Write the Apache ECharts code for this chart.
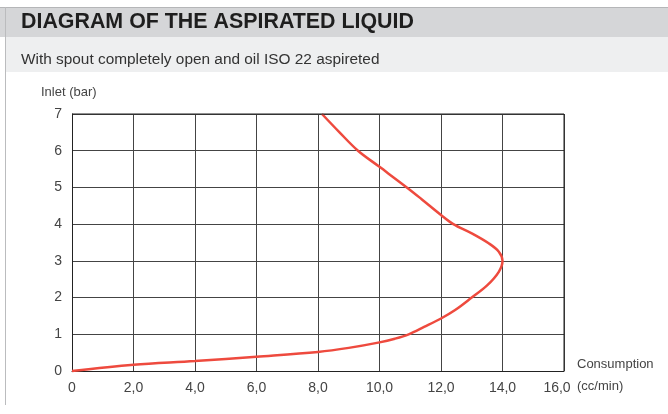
<!DOCTYPE html>
<html>
<head>
<meta charset="utf-8">
<style>
  html, body { margin: 0; padding: 0; background: #fff; }
  #chart { width: 668px; height: 414px; }
</style>
<script src="https://cdn.jsdelivr.net/npm/echarts@6/dist/echarts.min.js"></script>
</head>
<body>
<div id="chart"></div>
<script>
// Curve points, traced along the curve from the origin upward
const consumption = [0, 2, 4, 6, 8, 9, 10, 10.5, 10.95, 11.45, 12, 12.46, 13, 13.5, 13.88, 14, 13.88, 13.55, 13, 12.4, 12, 11.37, 10.92, 10, 9.3, 8.7, 8.13];
const inlet       = [0, 0.17, 0.27, 0.39, 0.52, 0.63, 0.78, 0.88, 1.0, 1.2, 1.43, 1.66, 2.0, 2.33, 2.7, 3.0, 3.25, 3.48, 3.75, 4.0, 4.25, 4.68, 4.98, 5.56, 6.0, 6.5, 7.0];

const xTickLabels = ['0', '2,0', '4,0', '6,0', '8,0', '10,0', '12,0', '14,0', '16,0'];
const yTickLabels = ['0', '1', '2', '3', '4', '5', '6', '7'];

const titleText = 'DIAGRAM OF THE ASPIRATED LIQUID';
const subtitleText = 'With spout completely open and oil ISO 22 aspireted';
const yAxisName = 'Inlet (bar)';
const xAxisName1 = 'Consumption';
const xAxisName2 = '(cc/min)';

const labelFont = '"Liberation Sans", Arial, sans-serif';

const chart = echarts.init(document.getElementById('chart'), null, { renderer: 'canvas' });

const data = consumption.map((c, i) => [c, inlet[i]]);

chart.setOption({
  animation: false,
  backgroundColor: '#fff',
  grid: { left: 72, right: 104, top: 114, bottom: 43, containLabel: false },
  xAxis: {
    type: 'value', min: 0, max: 16, interval: 2,
    axisLine: { show: true, lineStyle: { color: '#222', width: 1 } },
    axisTick: { show: false },
    splitLine: { show: true, lineStyle: { color: '#444', width: 1 } },
    axisLabel: {
      margin: 10, color: '#444', fontSize: 14, fontFamily: labelFont,
      formatter: (v) => {
        const i = Math.round(v / 2);
        return i === xTickLabels.length - 1 ? '{last|' + xTickLabels[i] + '}' : xTickLabels[i];
      },
      rich: { last: { padding: [0, 14, 0, 0], color: '#444', fontSize: 14, fontFamily: labelFont } }
    }
  },
  yAxis: {
    type: 'value', min: 0, max: 7, interval: 1,
    axisLine: { show: true, lineStyle: { color: '#222', width: 1 } },
    axisTick: { show: false },
    splitLine: { show: true, lineStyle: { color: '#444', width: 1 } },
    axisLabel: {
      margin: 10, color: '#444', fontSize: 14, fontFamily: labelFont,
      formatter: (v) => yTickLabels[Math.round(v)]
    }
  },
  graphic: [
    { type: 'rect', shape: { x: 0, y: 7, width: 668, height: 30 }, style: { fill: '#d5d6d8' }, silent: true },
    { type: 'rect', shape: { x: 6, y: 37, width: 662, height: 35 }, style: { fill: '#eeeff0' }, silent: true },
    { type: 'line', shape: { x1: 0, y1: 7.5, x2: 668, y2: 7.5 }, style: { stroke: '#b5b6b8', lineWidth: 1 }, silent: true },
    { type: 'line', shape: { x1: 5.5, y1: 7, x2: 5.5, y2: 405 }, style: { stroke: '#bbbcbe', lineWidth: 1 }, silent: true },
    { type: 'rect', shape: { x: 563.5, y: 114, width: 1, height: 257 }, style: { fill: '#222' }, silent: true, z: 10 },
    { type: 'rect', shape: { x: 72, y: 113.5, width: 492, height: 1 }, style: { fill: '#222' }, silent: true, z: 10 },
    { type: 'text', left: 21, top: 12, style: { text: titleText, fill: '#1e1e1e', font: 'bold 21.4px "Liberation Sans", Arial, sans-serif' }, silent: true },
    { type: 'text', left: 21, top: 52, style: { text: subtitleText, fill: '#333', font: '15.4px "Liberation Sans", Arial, sans-serif' }, silent: true },
    { type: 'text', left: 41, top: 86, style: { text: yAxisName, fill: '#444', font: '13px ' + labelFont }, silent: true },
    { type: 'text', left: 577, top: 358, style: { text: xAxisName1, fill: '#444', font: '13px ' + labelFont }, silent: true },
    { type: 'text', left: 577, top: 380, style: { text: xAxisName2, fill: '#444', font: '13px ' + labelFont }, silent: true }
  ],
  series: [{
    type: 'line',
    data: data,
    smooth: 0.35,
    showSymbol: false,
    clip: false,
    lineStyle: { color: '#ee4a3e', width: 2.5 }
  }]
});
</script>
</body>
</html>
